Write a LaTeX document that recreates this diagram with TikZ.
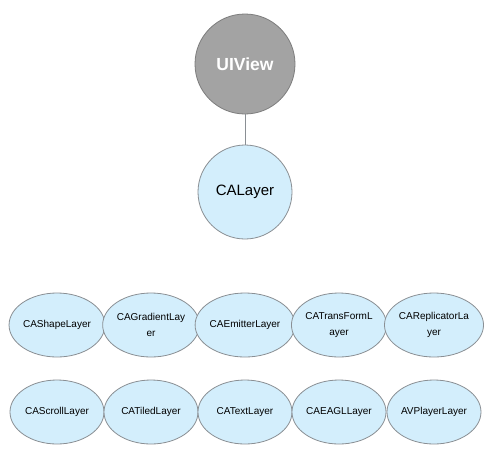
\documentclass[tikz,border=0pt]{standalone}
\usepackage{fontspec}
\setmainfont{Liberation Sans}
\usetikzlibrary{shapes.geometric}
\definecolor{lblue}{HTML}{D3EEFC}
\definecolor{edge}{HTML}{8A8F94}
\definecolor{vgray}{HTML}{A3A3A3}
\definecolor{vedge}{HTML}{7D7D7D}
\tikzset{
  lay/.style={ellipse, draw=edge, fill=lblue, line width=0.8pt, minimum width=94pt, minimum height=64pt, inner sep=0pt, font=\fontsize{10}{16}\selectfont, align=center},
  big/.style={circle, draw=edge, fill=lblue, line width=0.8pt, minimum size=94pt, inner sep=0pt, font=\fontsize{15}{18}\selectfont},
  view/.style={circle, draw=vedge, fill=vgray, line width=0.8pt, minimum size=100pt, inner sep=0pt, text=white, font=\fontsize{17.5}{20}\bfseries\selectfont},
  link/.style={draw=edge, line width=0.8pt}
}
\begin{document}
\begin{tikzpicture}[x=1pt,y=-1pt]
\useasboundingbox[fill=white] (0,0) rectangle (493,456);
\node[view] (uiview) at (245,64) {UIView};
\node[big] (calayer) at (245,192) {CALayer};
\draw[link] (uiview) -- (calayer);
\node[lay] (shape) at (57,325) {CAShapeLayer};
\node[lay] (grad) at (151,325) {CAGradientLay\\er};
\node[lay] (emit) at (245,325) {CAEmitterLayer};
\node[lay] (trans) at (339,325) {CATransFormL\\ayer};
\node[lay] (repl) at (434,325) {CAReplicatorLa\\yer};
\node[lay] (scroll) at (57,412) {CAScrollLayer};
\node[lay] (tiled) at (151,412) {CATiledLayer};
\node[lay] (text) at (245,412) {CATextLayer};
\node[lay] (eagl) at (339,412) {CAEAGLLayer};
\node[lay] (avp) at (434,412) {AVPlayerLayer};
\end{tikzpicture}
\end{document}
